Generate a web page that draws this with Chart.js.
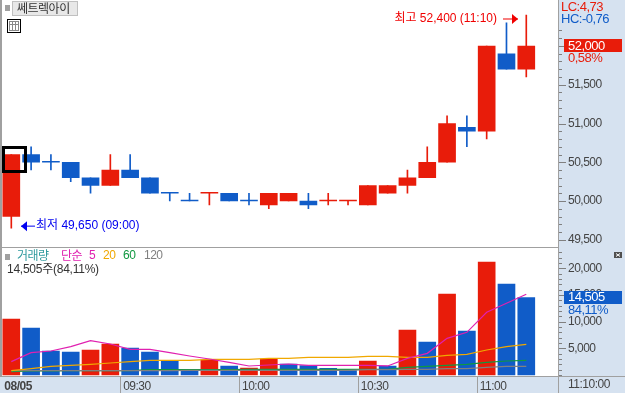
<!DOCTYPE html>
<html>
<head>
<meta charset="utf-8">
<title>쎄트렉아이</title>
<script src="https://cdn.jsdelivr.net/npm/chart.js@4/dist/chart.umd.min.js"></script>
<style>
  html, body { margin: 0; padding: 0; background: #fff; }
  canvas { display: block; }
</style>
</head>
<body>
<canvas id="grafico" width="625" height="393"></canvas>
<script>
// dados
const times = ['08/05','09:05','09:10','09:15','09:20','09:25','09:30','09:35','09:40','09:45','09:50','09:55','10:00','10:05','10:10','10:15','10:20','10:25','10:30','10:35','10:40','10:45','10:50','10:55','11:00','11:05','11:10','']
const timeTickLabels = ['08/05','09:30','10:00','10:30','11:00']

const opens  = [49800,50600,50500,50500,50300,50200,50400,50300,50100,50000,50100,50100,50000,49950,50000,50000,50000,50000,49950,50100,50200,50300,50500,50950,50900,51900,51700]
const closes = [50600,50500,50500,50300,50200,50400,50300,50100,50100,50000,50100,50000,50000,50100,50100,49950,50000,50000,50200,50200,50300,50500,51000,50900,52000,51700,52000]
const highs  = [50600,50700,50600,50500,50300,50600,50600,50300,50100,50100,50100,50100,50100,50100,50100,50100,50100,50000,50200,50200,50400,50700,51100,51100,52000,52300,52400]
const lows   = [49650,50400,50400,50250,50100,50200,50300,50100,50000,50000,49950,50000,49950,49900,50000,49900,49950,49950,49950,50100,50100,50300,50500,50700,50800,51700,51600]
const priceUp = [true,false,false,false,false,true,false,false,false,false,true,false,false,true,true,false,true,true,true,true,true,true,true,false,true,false,true]

const volumes = [10500,8810,4500,4310,4690,5810,5060,4310,2625,900,2800,1690,1310,3000,2060,1750,1250,810,2625,1690,8440,6190,15190,8250,21190,17060,14505]
const volumeUp = [true,false,false,false,true,true,false,false,false,false,true,false,true,true,false,false,false,false,true,false,true,false,true,false,true,false,false]

const ma5   = [2500,4190,4500,5310,6440,5810,4810,4810,4190,3560,3000,2375,1690,1875,2060,1810,1810,1810,1810,1690,3125,4060,6875,8000,11750,13440,15125]
const ma20  = [810,1190,1625,1810,2000,2250,2500,2750,2750,2750,2940,2940,2940,3125,3125,3310,3310,3310,3500,3500,3310,3310,3690,3875,4690,5310,5750]
const ma60  = [620,750,780,800,800,800,800,1000,1000,1000,1000,1000,1060,1060,1060,1060,1060,1060,1060,1060,1440,1625,1810,2000,2375,2625,2750]
const ma120 = [810,810,810,810,810,810,810,810,810,880,880,880,880,880,880,880,880,880,1000,1000,1060,1060,1190,1190,1440,1625,1625]

const priceTicks = [49500,49600,49700,49800,49900,50000,50100,50200,50300,50400,50500,50600,50700,50800,50900,51000,51100,51200,51300,51400,51500,51600,51700,51800,51900,52000,52100,52200]
const priceTickLabels = [49500,50000,50500,51000,51500,52000]
const volumeTicks = [0,1000,2000,3000,4000,5000,6000,7000,8000,9000,10000,11000,12000,13000,14000,15000,16000,17000,18000,19000,20000,21000,22000,23000]
const volumeTickLabels = [5000,10000,15000,20000]

const vermelho = '#e81c0a'
const azul = '#105cc8'
const painel = '#d6e2f0'
const cinza = '#a0a0a0'
const fonteNum = '"Liberation Sans",sans-serif'
const fonteKr = '"Noto Sans CJK KR","Noto Sans",sans-serif'
const fonteMista = '"Liberation Sans","Noto Sans CJK KR",sans-serif'

function texto(ctx, str, x, y, cor, fonte, align) {
  ctx.font = fonte
  ctx.fillStyle = cor
  ctx.textAlign = align || 'left'
  ctx.textBaseline = 'middle'
  ctx.fillText(str, x, y)
}

function seta(ctx, x1, x2, y, cor) {
  // linha com a ponta triangular em x2
  const lado = x2 > x1 ? -1 : 1
  ctx.fillStyle = cor
  ctx.fillRect(Math.min(x1, x2), y - 0.5, Math.abs(x2 - x1), 1)
  ctx.beginPath()
  ctx.moveTo(x2, y)
  ctx.lineTo(x2 + lado * 6, y - 5)
  ctx.lineTo(x2 + lado * 6, y + 5)
  ctx.closePath()
  ctx.fill()
}

function semMargem(s) {
  s.paddingTop = 0
  s.paddingBottom = 0
  s.paddingLeft = 0
  s.paddingRight = 0
}

const fundo = {
  id: 'fundo',
  beforeDraw(chart) {
    const ctx = chart.ctx
    ctx.save()
    ctx.fillStyle = '#fff'
    ctx.fillRect(0, 0, 625, 393)
    ctx.fillStyle = painel
    ctx.fillRect(559, 0, 66, 393)
    ctx.fillRect(0, 376, 625, 17)
    ctx.fillStyle = cinza
    ctx.fillRect(0, 0, 2, 376)
    ctx.fillRect(0, 247, 559, 1)
    ctx.fillRect(0, 376, 625, 1)
    ctx.fillRect(558, 0, 1, 393)

    // separadores de hora no eixo de baixo
    const x = chart.scales.x
    const passo = x.getPixelForValue(1) - x.getPixelForValue(0)
    for (let i = 6; i < 27; i += 6) {
      ctx.fillRect(Math.round(x.getPixelForValue(i) - passo / 2), 376, 1, 17)
    }

    // tracinhos do eixo direito
    ctx.fillStyle = '#808080'
    chart.scales.yPreco.ticks.forEach(t => {
      const y = Math.round(chart.scales.yPreco.getPixelForValue(t.value))
      ctx.fillRect(559, y, t.value % 500 === 0 ? 7 : 3, 1)
    })
    chart.scales.yVolume.ticks.forEach(t => {
      const y = Math.round(chart.scales.yVolume.getPixelForValue(t.value))
      ctx.fillRect(559, y, t.value % 5000 === 0 && t.value > 0 ? 7 : 3, 1)
    })
    ctx.restore()
    // fonte mais apertada, como a bitmap da figura
    ctx.letterSpacing = '-0.5px'
  },
  afterDraw(chart) {
    const ctx = chart.ctx
    const x = chart.scales.x
    const yP = chart.scales.yPreco
    ctx.save()

    // nome do papel
    ctx.fillStyle = '#a0a0a0'
    ctx.fillRect(5, 5, 5, 6)
    ctx.fillStyle = '#e8e8e8'
    ctx.strokeStyle = '#c0c0c0'
    ctx.lineWidth = 1
    ctx.fillRect(12.5, 1.5, 65, 14)
    ctx.strokeRect(12.5, 1.5, 65, 14)
    texto(ctx, '쎄트렉아이', 17, 8.5, '#333', '12px ' + fonteKr)

    // icone de tabela
    ctx.strokeStyle = '#000'
    ctx.strokeRect(7.5, 19.5, 13, 13)
    ctx.strokeStyle = '#888'
    ctx.strokeRect(9.5, 21.5, 9, 9)
    ctx.beginPath()
    ctx.moveTo(12.5, 21); ctx.lineTo(12.5, 31)
    ctx.moveTo(15.5, 21); ctx.lineTo(15.5, 31)
    ctx.moveTo(9, 24.5); ctx.lineTo(19, 24.5)
    ctx.stroke()

    // marcador preto no primeiro candle
    ctx.strokeStyle = '#000'
    ctx.lineWidth = 3
    ctx.strokeRect(Math.round(x.getPixelForValue(0) - 8) + 0.5, Math.round(yP.getPixelForValue(50600) - 8) + 0.5, 22, 24)
    ctx.lineWidth = 1

    // minimo e maximo
    ctx.letterSpacing = '0px'
    const yMin = yP.getPixelForValue(lows[0])
    seta(ctx, 35, 21, yMin - 2, '#0000f0')
    texto(ctx, '최저 49,650 (09:00)', 36, yMin - 2, '#0000f0', '12px ' + fonteMista)
    const yMax = yP.getPixelForValue(highs[26])
    seta(ctx, 503, 518, yMax + 4, '#f00000')
    texto(ctx, '최고 52,400 (11:10)', 497, yMax + 4, '#f00000', '12px ' + fonteMista, 'right')

    // painel direito
    ctx.letterSpacing = '-0.5px'
    const num = '12px ' + fonteNum
    const numGrande = '13px ' + fonteNum
    texto(ctx, 'LC:4,73', 561, 7, vermelho, numGrande)
    texto(ctx, 'HC:-0,76', 561, 19, azul, numGrande)

    ctx.fillStyle = vermelho
    ctx.fillRect(564, 39, 58, 13)
    texto(ctx, '52,000', 568, yP.getPixelForValue(closes[26]), '#fff', numGrande)
    texto(ctx, '0,58%', 568, 58, vermelho, numGrande)

    ctx.fillStyle = azul
    ctx.fillRect(564, 291, 58, 13)
    texto(ctx, '14,505', 568, 297.5, '#fff', numGrande)
    texto(ctx, '84,11%', 568, 310, azul, numGrande)

    // legenda do volume
    ctx.fillStyle = '#a0a0a0'
    ctx.fillRect(5, 254, 5, 6)
    const kr = '12px ' + fonteKr
    texto(ctx, '거래량', 17, 255.5, '#2e9a9e', kr)
    texto(ctx, '단순', 61, 255.5, '#e020b0', kr)
    texto(ctx, '5', 89, 256, '#e020b0', num)
    texto(ctx, '20', 103, 256, '#f0a800', num)
    texto(ctx, '60', 123, 256, '#109840', num)
    texto(ctx, '120', 144, 256, '#808080', num)
    ctx.letterSpacing = '-0.25px'
    texto(ctx, '14,505주(84,11%)', 7, 269.5, '#333', '12px ' + fonteMista)
    ctx.letterSpacing = '-0.5px'

    // botao de fechar
    ctx.fillStyle = '#505050'
    ctx.fillRect(614, 252, 8, 6)
    ctx.strokeStyle = '#fff'
    ctx.beginPath()
    ctx.moveTo(616, 253.5); ctx.lineTo(620, 256.5)
    ctx.moveTo(620, 253.5); ctx.lineTo(616, 256.5)
    ctx.stroke()

    texto(ctx, '11:10:00', 568, 385, '#444', num)
    ctx.restore()
  }
}

function linha(dados, cor) {
  return {
    type: 'line',
    data: dados,
    yAxisID: 'yVolume',
    borderColor: cor,
    borderWidth: 1.2,
    pointRadius: 0,
    tension: 0,
    fill: false
  }
}

function barra(dados, eixo, cores, largura) {
  return {
    type: 'bar',
    data: dados,
    yAxisID: eixo,
    backgroundColor: cores,
    barThickness: largura,
    minBarLength: 1,
    grouped: false
  }
}

const coresPreco = priceUp.map(u => u ? vermelho : azul)
const coresVolume = volumeUp.map(u => u ? vermelho : azul)

new Chart(document.getElementById('grafico'), {
  data: {
    labels: times,
    datasets: [
      linha(ma5, '#e020b0'),
      linha(ma20, '#f0a800'),
      linha(ma120, '#808080'),
      linha(ma60, '#109840'),
      barra(opens.map((o, i) => [o, closes[i]]), 'yPreco', coresPreco, 17),
      barra(lows.map((l, i) => [l, highs[i]]), 'yPreco', coresPreco, 1),
      barra(volumes, 'yVolume', coresVolume, 17)
    ]
  },
  plugins: [fundo],
  options: {
    responsive: false,
    animation: false,
    events: [],
    layout: { padding: { left: 1.4, right: 0, top: 0, bottom: 0 } },
    plugins: { legend: { display: false }, tooltip: { enabled: false }, title: { display: false } },
    scales: {
      x: {
        type: 'category',
        offset: true,
        afterFit(s) { s.height = 17; semMargem(s) },
        grid: { display: false, drawTicks: false },
        border: { display: false },
        ticks: {
          autoSkip: false,
          maxRotation: 0,
          minRotation: 0,
          align: 'start',
          labelOffset: -7,
          padding: 3,
          color: '#444',
          callback(v, i) { return timeTickLabels.includes(times[i]) ? times[i] : '' },
          font: c => ({ family: fonteNum, size: 12, weight: c.index === 0 ? 'bold' : 'normal' })
        }
      },
      yPreco: {
        type: 'linear',
        position: 'right',
        stack: 'paineis',
        stackWeight: 247,
        min: 49406.5,
        max: 52593.5,
        afterFit(s) { s.width = 69; semMargem(s) },
        afterBuildTicks(s) { s.ticks = priceTicks.map(v => ({ value: v })) },
        grid: { display: false, drawTicks: false },
        border: { display: false },
        ticks: {
          autoSkip: false,
          padding: 12,
          color: '#444',
          font: { family: fonteNum, size: 12 },
          callback(v) { return priceTickLabels.includes(v) ? v.toLocaleString('en-US') : '' }
        }
      },
      yVolume: {
        type: 'linear',
        position: 'right',
        stack: 'paineis',
        stackWeight: 129,
        min: -190,
        max: 24000,
        afterFit(s) { s.width = 69; semMargem(s) },
        afterBuildTicks(s) { s.ticks = volumeTicks.map(v => ({ value: v })) },
        grid: { display: false, drawTicks: false },
        border: { display: false },
        ticks: {
          autoSkip: false,
          padding: 12,
          color: '#444',
          font: { family: fonteNum, size: 12 },
          callback(v) { return volumeTickLabels.includes(v) ? v.toLocaleString('en-US') : '' }
        }
      }
    }
  }
})
</script>
</body>
</html>
